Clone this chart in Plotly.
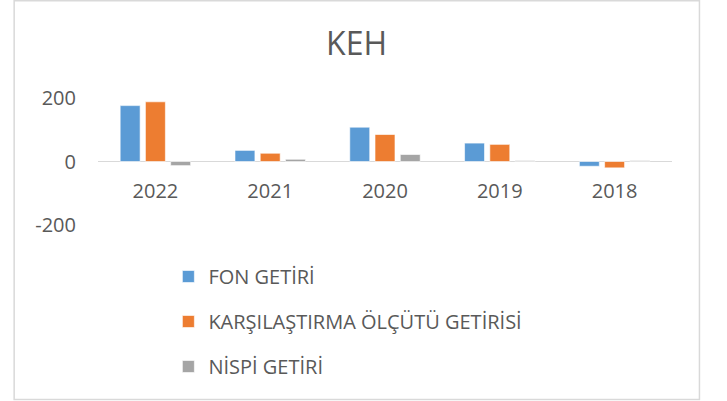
import plotly.graph_objects as go

categories = ["2022", "2021", "2020", "2019", "2018"]
fon_getiri = [176, 35, 108, 58, -15]
karsilastirma = [188, 26, 85, 54, -20]
nispi = [-13, 7, 22, 3, 3]

series_names = ["FON GETİRİ", "KARŞILAŞTIRMA ÖLÇÜTÜ GETİRİSİ", "NİSPİ GETİRİ"]
series_values = [fon_getiri, karsilastirma, nispi]
colors = ["#5B9BD5", "#ED7D31", "#A5A5A5"]

y_tick_vals = [-200, 0, 200]
y_tick_text = ["-200", "0", "200"]

FONT = "Open Sans"
TXT = "#595959"

fig = go.Figure()
for i, (name, vals, col) in enumerate(zip(series_names, series_values, colors)):
    fig.add_trace(go.Bar(
        x=categories, y=vals, name=name,
        marker=dict(color=col, line=dict(color="rgba(255,255,255,0.6)", width=1)),
        legendgroup=f"g{i}",
    ))

# plot area geometry (pixels)
L, R, T, B = 97.5, 54.5, 98, 176
W, H = 727, 401
pw = W - L - R
ph = H - T - B

def px_x(x):
    return (x - L) / pw

def px_y(y):
    return (H - B - y) / ph

fig.update_layout(
    width=W, height=H,
    margin=dict(l=L, r=R, t=T, b=B, pad=0),
    paper_bgcolor="white", plot_bgcolor="white",
    font=dict(family=FONT, color=TXT, size=20),
    title=dict(text="KEH", x=px_x(356.5), xref="paper", xanchor="center",
               y=1 - 44 / H, yanchor="middle",
               font=dict(family=FONT, size=32, color=TXT)),
    barmode="group", bargap=0.34, bargroupgap=0.21,
    showlegend=True,
    legend=dict(orientation="v", x=px_x(168), xanchor="left",
                y=px_y(257), yanchor="top", tracegroupgap=16,
                font=dict(family=FONT, size=20, color=TXT),
                bgcolor="rgba(0,0,0,0)"),
    xaxis=dict(type="category", anchor="free", position=0.5,
               showgrid=False, showline=False, zeroline=False,
               ticks="outside", ticklen=11, tickcolor="rgba(0,0,0,0)",
               tickfont=dict(family=FONT, size=20, color=TXT)),
    yaxis=dict(range=[-200, 200], tickvals=y_tick_vals, ticktext=y_tick_text,
               showgrid=True, gridcolor="#D9D9D9", gridwidth=1.3,
               zeroline=True, zerolinecolor="#D9D9D9", zerolinewidth=1.3,
               showline=False,
               ticks="outside", ticklen=17, tickcolor="rgba(0,0,0,0)",
               tickfont=dict(family=FONT, size=20, color=TXT)),
    shapes=[dict(type="rect", xref="paper", yref="paper",
                 x0=px_x(13.5), x1=px_x(700), y0=px_y(399.5), y1=px_y(0.8),
                 line=dict(color="#D9D9D9", width=1.5), layer="below")],
)

fig.write_html("out.html", config={"displayModeBar": False},
               post_script="document.body.style.margin='0px';document.body.style.overflow='hidden';")
